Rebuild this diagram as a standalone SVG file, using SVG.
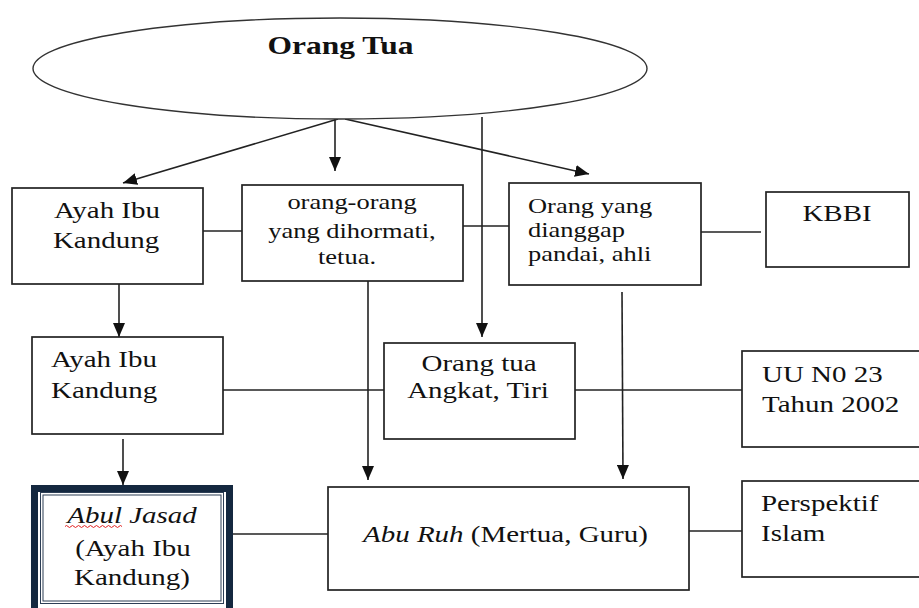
<svg xmlns="http://www.w3.org/2000/svg" width="919" height="608" viewBox="0 0 919 608">
  <defs>
    <marker id="arrow" viewBox="0 0 14 12" refX="14" refY="6" markerWidth="14" markerHeight="12" markerUnits="userSpaceOnUse" orient="auto">
      <path d="M0,0 L14,6 L0,12 Z" fill="#111"/>
    </marker>
    <style>
      .box { fill: #fff; stroke: #222; stroke-width: 1.7; }
      .link { fill: none; stroke: #222; stroke-width: 1.6; }
      .arr { fill: none; stroke: #222; stroke-width: 1.6; marker-end: url(#arrow); }
      text { font-family: "Liberation Serif", "Times New Roman", serif; fill: #111; }
      .t { font-size: 23px; }
      .s { font-size: 21px; }
      .b { font-size: 25px; font-weight: bold; }
      .i { font-style: italic; }
    </style>
  </defs>
  <rect width="919" height="608" fill="#fff"/>

  <!-- connectors -->
  <g id="connectors">
    <line class="arr" x1="338" y1="119" x2="123" y2="183"/>
    <line class="arr" x1="335" y1="119" x2="335" y2="171"/>
    <line class="arr" x1="345" y1="119" x2="589" y2="174"/>
    <line class="arr" x1="482" y1="117" x2="482" y2="337"/>
    <line class="arr" x1="119" y1="284" x2="119" y2="337"/>
    <line class="arr" x1="123" y1="439" x2="123" y2="485"/>
    <line class="arr" x1="368" y1="281" x2="368" y2="480"/>
    <line class="arr" x1="622" y1="292" x2="623" y2="479"/>
    <line class="link" x1="203" y1="231" x2="242" y2="231"/>
    <line class="link" x1="463" y1="226" x2="509" y2="226"/>
    <line class="link" x1="701" y1="232" x2="761" y2="232"/>
    <line class="link" x1="223" y1="390" x2="384" y2="390"/>
    <line class="link" x1="575" y1="390" x2="742" y2="390"/>
    <line class="link" x1="233" y1="534" x2="328" y2="534"/>
    <line class="link" x1="689" y1="531" x2="742" y2="531"/>
  </g>

  <!-- root ellipse -->
  <g id="orang-tua">
    <ellipse cx="340" cy="68.5" rx="307" ry="50.5" fill="#fff" stroke="#333" stroke-width="1.4"/>
    <text class="b" text-anchor="middle" transform="translate(340.5,54) scale(1.26,1)">Orang Tua</text>
  </g>

  <g id="ayah-ibu-1">
    <rect class="box" x="12" y="188" width="191" height="96"/>
    <text class="t" text-anchor="middle" transform="translate(107,218) scale(1.26,1)">Ayah Ibu</text>
    <text class="t" text-anchor="middle" transform="translate(106,248) scale(1.26,1)">Kandung</text>
  </g>

  <g id="dihormati">
    <rect class="box" x="242" y="185" width="221" height="96"/>
    <text class="s" text-anchor="middle" transform="translate(352,209) scale(1.26,1)">orang-orang</text>
    <text class="s" text-anchor="middle" transform="translate(352,238) scale(1.26,1)">yang dihormati,</text>
    <text class="s" text-anchor="middle" transform="translate(347,264) scale(1.26,1)">tetua.</text>
  </g>

  <g id="pandai">
    <rect class="box" x="509" y="183" width="192" height="102"/>
    <text class="s" transform="translate(528,213) scale(1.26,1)">Orang yang</text>
    <text class="s" transform="translate(528,237) scale(1.26,1)">dianggap</text>
    <text class="s" transform="translate(528,261) scale(1.26,1)">pandai, ahli</text>
  </g>

  <g id="kbbi">
    <rect class="box" x="766" y="192" width="143" height="75"/>
    <text class="t" text-anchor="middle" transform="translate(837,221) scale(1.26,1)">KBBI</text>
  </g>

  <g id="ayah-ibu-2">
    <rect class="box" x="32" y="337" width="191" height="97"/>
    <text class="t" transform="translate(51,367) scale(1.26,1)">Ayah Ibu</text>
    <text class="t" transform="translate(51,398) scale(1.26,1)">Kandung</text>
  </g>

  <g id="angkat-tiri">
    <rect class="box" x="384" y="343" width="191" height="96"/>
    <text class="t" text-anchor="middle" transform="translate(479,371) scale(1.26,1)">Orang tua</text>
    <text class="t" text-anchor="middle" transform="translate(478,398) scale(1.26,1)">Angkat, Tiri</text>
  </g>

  <g id="uu">
    <rect class="box" x="742" y="351" width="180" height="96"/>
    <text class="t" transform="translate(762,382) scale(1.26,1)">UU N0 23</text>
    <text class="t" transform="translate(762,412) scale(1.26,1)">Tahun 2002</text>
  </g>

  <g id="abul-jasad">
    <rect x="34.5" y="488.5" width="195" height="125" fill="#fff" stroke="#14283f" stroke-width="7"/>
    <rect x="40.5" y="492.5" width="183" height="111" fill="none" stroke="#2c3e55" stroke-width="1"/>
    <rect x="43" y="495" width="178" height="106" fill="none" stroke="#2c3e55" stroke-width="1"/>
    <text class="t i" text-anchor="middle" transform="translate(132,523) scale(1.26,1)">Abul Jasad</text>
    <path d="M65,526.5 q1.5,-2 3,0 t3,0 t3,0 t3,0 t3,0 t3,0 t3,0 t3,0 t3,0 t3,0 t3,0 t3,0 t3,0 t3,0 t3,0 t3,0 t3,0 t3,0 t3,0" fill="none" stroke="#e02020" stroke-width="1"/>
    <text class="t" text-anchor="middle" transform="translate(133,556) scale(1.26,1)">(Ayah Ibu</text>
    <text class="t" text-anchor="middle" transform="translate(132,585) scale(1.26,1)">Kandung)</text>
  </g>

  <g id="abu-ruh">
    <rect class="box" x="328" y="487" width="361" height="103"/>
    <text class="t" transform="translate(363,542) scale(1.26,1)"><tspan class="i">Abu Ruh</tspan> (Mertua, Guru)</text>
  </g>

  <g id="perspektif">
    <rect class="box" x="742" y="481" width="180" height="96"/>
    <text class="t" transform="translate(761,511) scale(1.26,1)">Perspektif</text>
    <text class="t" transform="translate(761,541) scale(1.26,1)">Islam</text>
  </g>
</svg>
